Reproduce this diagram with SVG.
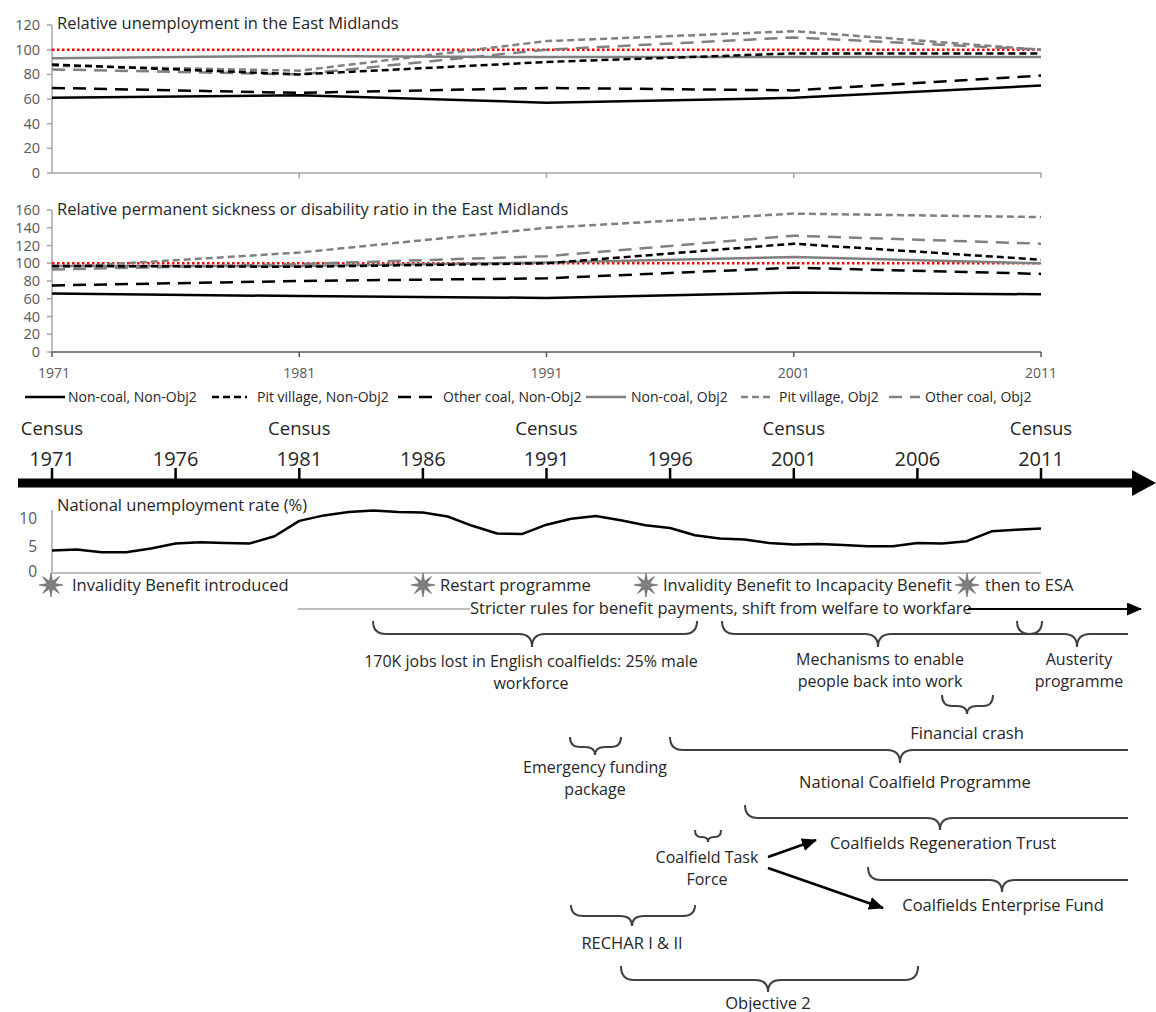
<svg xmlns="http://www.w3.org/2000/svg" width="1156" height="1012" viewBox="0 0 1156 1012">
<style>
text{font-family:'Open Sans','Noto Sans','DejaVu Sans',sans-serif;fill:#262626}
.lbl{font-size:16.5px}
.l2{font-size:16px}
.mid{text-anchor:middle}
.ax{font-size:14.5px;fill:#595959;text-anchor:end}
.xl{font-size:14px;fill:#595959;text-anchor:middle}
.lg{font-size:14px}
.cen{font-size:18.5px;text-anchor:middle}
.yr{font-size:20px;text-anchor:middle}
.axis{stroke:#a6a6a6;stroke-width:1.5;fill:none}
.br{fill:none;stroke:#404040;stroke-width:2}
.s{fill:none;stroke-width:2.5;stroke-linejoin:round}
.k{stroke:#000}
.g{stroke:#808080}
.sd{stroke-dasharray:7 4}
.ld{stroke-dasharray:13 8}
.red{stroke:#ff0000;stroke-width:2.5;stroke-dasharray:2.5 2.5;fill:none}
.star{fill:#808080;stroke:#5a5a5a;stroke-width:0.6}
</style>
<defs>
<polygon id="star" points="0,-12 1.53,-3.7 8.49,-8.49 3.7,-1.53 12,0 3.7,1.53 8.49,8.49 1.53,3.7 0,12 -1.53,3.7 -8.49,8.49 -3.7,1.53 -12,0 -3.7,-1.53 -8.49,-8.49 -1.53,-3.7"/>
<marker id="ah" markerUnits="userSpaceOnUse" markerWidth="15" markerHeight="13" refX="14" refY="6.5" orient="auto">
<path d="M0,0 L15,6.5 L0,13 z" fill="#000"/>
</marker>
</defs>

<g id="chart-unemployment">
<text class="lbl" x="57" y="29">Relative unemployment in the East Midlands</text>
<path class="axis" d="M52,25 V173 H1041 M47,25 H52 M47,49.7 H52 M47,74.4 H52 M47,99 H52 M47,123.7 H52 M47,148.3 H52 M47,173 H52 M299.25,173 V178 M546.5,173 V178 M793.75,173 V178 M1041,173 V178"/>
<text class="ax" x="40" y="30">120</text>
<text class="ax" x="40" y="54.7">100</text>
<text class="ax" x="40" y="79.4">80</text>
<text class="ax" x="40" y="104">60</text>
<text class="ax" x="40" y="128.7">40</text>
<text class="ax" x="40" y="153.3">20</text>
<text class="ax" x="40" y="178">0</text>
<polyline class="red" points="52,49.7 1041,49.7"/>
<polyline class="s g" points="52,58.3 299.25,55.9 546.5,57.1 793.75,57.1 1041,57.1"/>
<polyline class="s g sd" points="52,65.7 299.25,70.7 546.5,41.1 793.75,31.2 1041,49.7"/>
<polyline class="s g ld" points="52,69.4 299.25,74.4 546.5,49.7 793.75,37.4 1041,49.7"/>
<polyline class="s k sd" points="52,64.5 299.25,74.4 546.5,62 793.75,53.4 1041,53.4"/>
<polyline class="s k ld" points="52,87.9 299.25,92.9 546.5,87.9 793.75,90.4 1041,75.6"/>
<polyline class="s k" points="52,97.8 299.25,95.3 546.5,102.7 793.75,97.8 1041,85.5"/>
</g>

<g id="chart-sickness">
<text class="lbl" x="57" y="215">Relative permanent sickness or disability ratio in the East Midlands</text>
<path class="axis" d="M52,210 V352 M47,210 H52 M47,227.75 H52 M47,245.5 H52 M47,263.25 H52 M47,281 H52 M47,298.75 H52 M47,316.5 H52 M47,334.25 H52 M47,352 H52"/>
<path d="M52,352 H1041 M52,352 V357 M299.25,352 V357 M546.5,352 V357 M793.75,352 V357 M1041,352 V357" stroke="#595959" stroke-width="1.5" fill="none"/>
<text class="ax" x="40" y="215">160</text>
<text class="ax" x="40" y="232.75">140</text>
<text class="ax" x="40" y="250.5">120</text>
<text class="ax" x="40" y="268.25">100</text>
<text class="ax" x="40" y="286">80</text>
<text class="ax" x="40" y="303.75">60</text>
<text class="ax" x="40" y="321.5">40</text>
<text class="ax" x="40" y="339.25">20</text>
<text class="ax" x="40" y="357">0</text>
<text class="xl" x="54" y="378">1971</text>
<text class="xl" x="299.25" y="378">1981</text>
<text class="xl" x="546.5" y="378">1991</text>
<text class="xl" x="793.75" y="378">2001</text>
<text class="xl" x="1041" y="378">2011</text>
<polyline class="red" points="52,263.3 1041,263.3"/>
<polyline class="s g" points="52,265.9 299.25,265.9 546.5,262.4 793.75,257 1041,263.3"/>
<polyline class="s g sd" points="52,267.7 299.25,252.6 546.5,227.8 793.75,213.6 1041,217.1"/>
<polyline class="s g ld" points="52,269.5 299.25,264.1 546.5,256.2 793.75,235.7 1041,243.7"/>
<polyline class="s k sd" points="52,265.9 299.25,266.8 546.5,263.3 793.75,243.7 1041,259.7"/>
<polyline class="s k ld" points="52,285.4 299.25,281 546.5,278.3 793.75,267.7 1041,273.9"/>
<polyline class="s k" points="52,293.4 299.25,296.1 546.5,297.9 793.75,292.5 1041,294.3"/>
</g>

<g id="legend">
<line class="s k" x1="25" y1="397" x2="65" y2="397"/>
<text class="lg" x="68" y="402">Non-coal, Non-Obj2</text>
<line class="s k sd" x1="212" y1="397" x2="247" y2="397"/>
<text class="lg" x="257" y="402">Pit village, Non-Obj2</text>
<line class="s k ld" x1="398" y1="397" x2="432" y2="397"/>
<text class="lg" x="443" y="402">Other coal, Non-Obj2</text>
<line class="s g" x1="586" y1="397" x2="626" y2="397"/>
<text class="lg" x="631" y="402">Non-coal, Obj2</text>
<line class="s g sd" x1="741" y1="397" x2="772" y2="397"/>
<text class="lg" x="779" y="402">Pit village, Obj2</text>
<line class="s g ld" x1="889" y1="397" x2="920" y2="397"/>
<text class="lg" x="925" y="402">Other coal, Obj2</text>
</g>

<g id="timeline">
<text class="cen" x="52" y="435">Census</text>
<text class="cen" x="299.3" y="435">Census</text>
<text class="cen" x="546.5" y="435">Census</text>
<text class="cen" x="793.8" y="435">Census</text>
<text class="cen" x="1041" y="435">Census</text>
<text class="yr" x="52" y="466">1971</text>
<text class="yr" x="175.6" y="466">1976</text>
<text class="yr" x="299.3" y="466">1981</text>
<text class="yr" x="422.9" y="466">1986</text>
<text class="yr" x="546.5" y="466">1991</text>
<text class="yr" x="670.1" y="466">1996</text>
<text class="yr" x="793.8" y="466">2001</text>
<text class="yr" x="917.4" y="466">2006</text>
<text class="yr" x="1041" y="466">2011</text>
<path d="M52,468 V480 M175.6,468 V480 M299.3,468 V480 M422.9,468 V480 M546.5,468 V480 M670.1,468 V480 M793.8,468 V480 M917.4,468 V480 M1041,468 V480" stroke="#000" stroke-width="2.5"/>
<line x1="18" y1="483" x2="1136" y2="483" stroke="#000" stroke-width="9"/>
<polygon points="1132,470 1156,483 1132,496" fill="#000"/>
</g>

<g id="chart-national">
<text class="lbl" x="57" y="511">National unemployment rate (%)</text>
<path d="M52,510 V573 H1041" stroke="#bfbfbf" stroke-width="2" fill="none"/>
<text class="ax" x="37" y="524" style="font-size:15.5px">10</text>
<text class="ax" x="37" y="552" style="font-size:15.5px">5</text>
<text class="ax" x="37" y="577" style="font-size:15.5px">0</text>
<polyline class="s k" points="52,550.6 76.7,549.5 101.5,552.2 126.2,552.2 150.9,548.4 175.6,543.4 200.4,542.3 225.1,542.9 249.8,543.4 274.5,536.3 299.3,520.9 324,515.4 348.7,512.1 373.4,510.4 398.2,512.1 422.9,512.6 447.6,516.5 472.3,525.8 497.1,533.5 521.8,534.1 546.5,524.7 571.2,518.7 595.9,515.9 620.7,520.3 645.4,525.3 670.1,528 694.9,535.2 719.6,538.5 744.3,539.6 769,542.9 793.8,544.5 818.5,544 843.2,545.1 867.9,546.2 892.7,546.2 917.4,542.9 942.1,543.4 966.8,541.2 991.6,531.3 1016.3,529.7 1041,528.6"/>
</g>

<g id="events">
<use href="#star" class="star" x="51" y="585"/>
<text class="lbl" x="72" y="591">Invalidity Benefit introduced</text>
<use href="#star" class="star" x="423" y="585"/>
<text class="lbl" x="440" y="591">Restart programme</text>
<use href="#star" class="star" x="646" y="585"/>
<text class="lbl" x="663" y="591">Invalidity Benefit to Incapacity Benefit</text>
<use href="#star" class="star" x="967" y="585"/>
<text class="lbl" x="985" y="591">then to ESA</text>
</g>

<g id="stricter-rules">
<line x1="298" y1="609" x2="470" y2="609" stroke="#bfbfbf" stroke-width="2"/>
<text class="lbl" x="470" y="614">Stricter rules for benefit payments, shift from welfare to workfare</text>
</g>

<g id="jobs-lost">
<path class="br" d="M373,621 Q373,634 386,634 H519 Q532,634 532,647 Q532,634 545,634 H684 Q697,634 697,621"/>
<text class="l2 mid" x="531" y="667">170K jobs lost in English coalfields: 25% male</text>
<text class="l2 mid" x="531" y="689">workforce</text>
</g>

<g id="mechanisms">
<path class="br" d="M722,621 Q722,634 735,634 H865 Q878,634 878,647 Q878,634 891,634 H1029 Q1042,634 1042,621"/>
<text class="l2 mid" x="880" y="665">Mechanisms to enable</text>
<text class="l2 mid" x="880" y="687">people back into work</text>
</g>

<g id="austerity">
<path class="br" d="M1017,621 Q1017,634 1030,634 H1064 Q1077,634 1077,647 Q1077,634 1090,634 H1128"/>
<text class="l2 mid" x="1079" y="665">Austerity</text>
<text class="l2 mid" x="1079" y="687">programme</text>
</g>

<g id="financial-crash">
<path class="br" d="M942,695 Q942,706 952,706 H957 Q967,706 967,714 Q967,706 977,706 H983 Q993,706 993,695"/>
<text class="lbl mid" x="967" y="739">Financial crash</text>
</g>

<g id="emergency-funding">
<path class="br" d="M570,737 Q570,747 580,747 H585 Q595,747 595,755 Q595,747 605,747 H611 Q621,747 621,737"/>
<text class="l2 mid" x="595" y="773">Emergency funding</text>
<text class="l2 mid" x="595" y="795">package</text>
</g>

<g id="national-coalfield-programme">
<path class="br" d="M670,737 Q670,750 683,750 H887 Q900,750 900,763 Q900,750 913,750 H1128"/>
<text class="lbl mid" x="915" y="788">National Coalfield Programme</text>
</g>

<g id="coalfields-regeneration-trust">
<path class="br" d="M745,805 Q745,818 758,818 H927 Q940,818 940,830 Q940,818 953,818 H1128"/>
<text class="lbl mid" x="943" y="849">Coalfields Regeneration Trust</text>
</g>

<g id="coalfield-task-force">
<path class="br" d="M695,830 Q695,837 701,837 H702 Q708,837 708,842 Q708,837 714,837 H715 Q721,837 721,830"/>
<text class="l2 mid" x="707" y="863">Coalfield Task</text>
<text class="l2 mid" x="707" y="885">Force</text>
</g>

<g id="coalfields-enterprise-fund">
<path class="br" d="M868,867 Q868,880 881,880 H989 Q1002,880 1002,892 Q1002,880 1015,880 H1128"/>
<text class="lbl mid" x="1003" y="911">Coalfields Enterprise Fund</text>
</g>

<g id="rechar">
<path class="br" d="M571,905 Q571,916 583,916 H620 Q632,916 632,926 Q632,916 644,916 H683 Q695,916 695,905"/>
<text class="lbl mid" x="632" y="949">RECHAR I &amp; II</text>
</g>

<g id="objective-2">
<path class="br" d="M621,966 Q621,980 634,980 H755 Q768,980 768,992 Q768,980 781,980 H905 Q918,980 918,966"/>
<text class="lbl mid" x="768" y="1009">Objective 2</text>
</g>

<g id="connectors" fill="none" stroke="#000" stroke-width="2.5">
<line x1="968" y1="609" x2="1141" y2="609" stroke-width="1.8" marker-end="url(#ah)"/>
<line x1="768" y1="857" x2="816" y2="840" marker-end="url(#ah)"/>
<line x1="768" y1="868" x2="883" y2="908" marker-end="url(#ah)"/>
</g>
</svg>
